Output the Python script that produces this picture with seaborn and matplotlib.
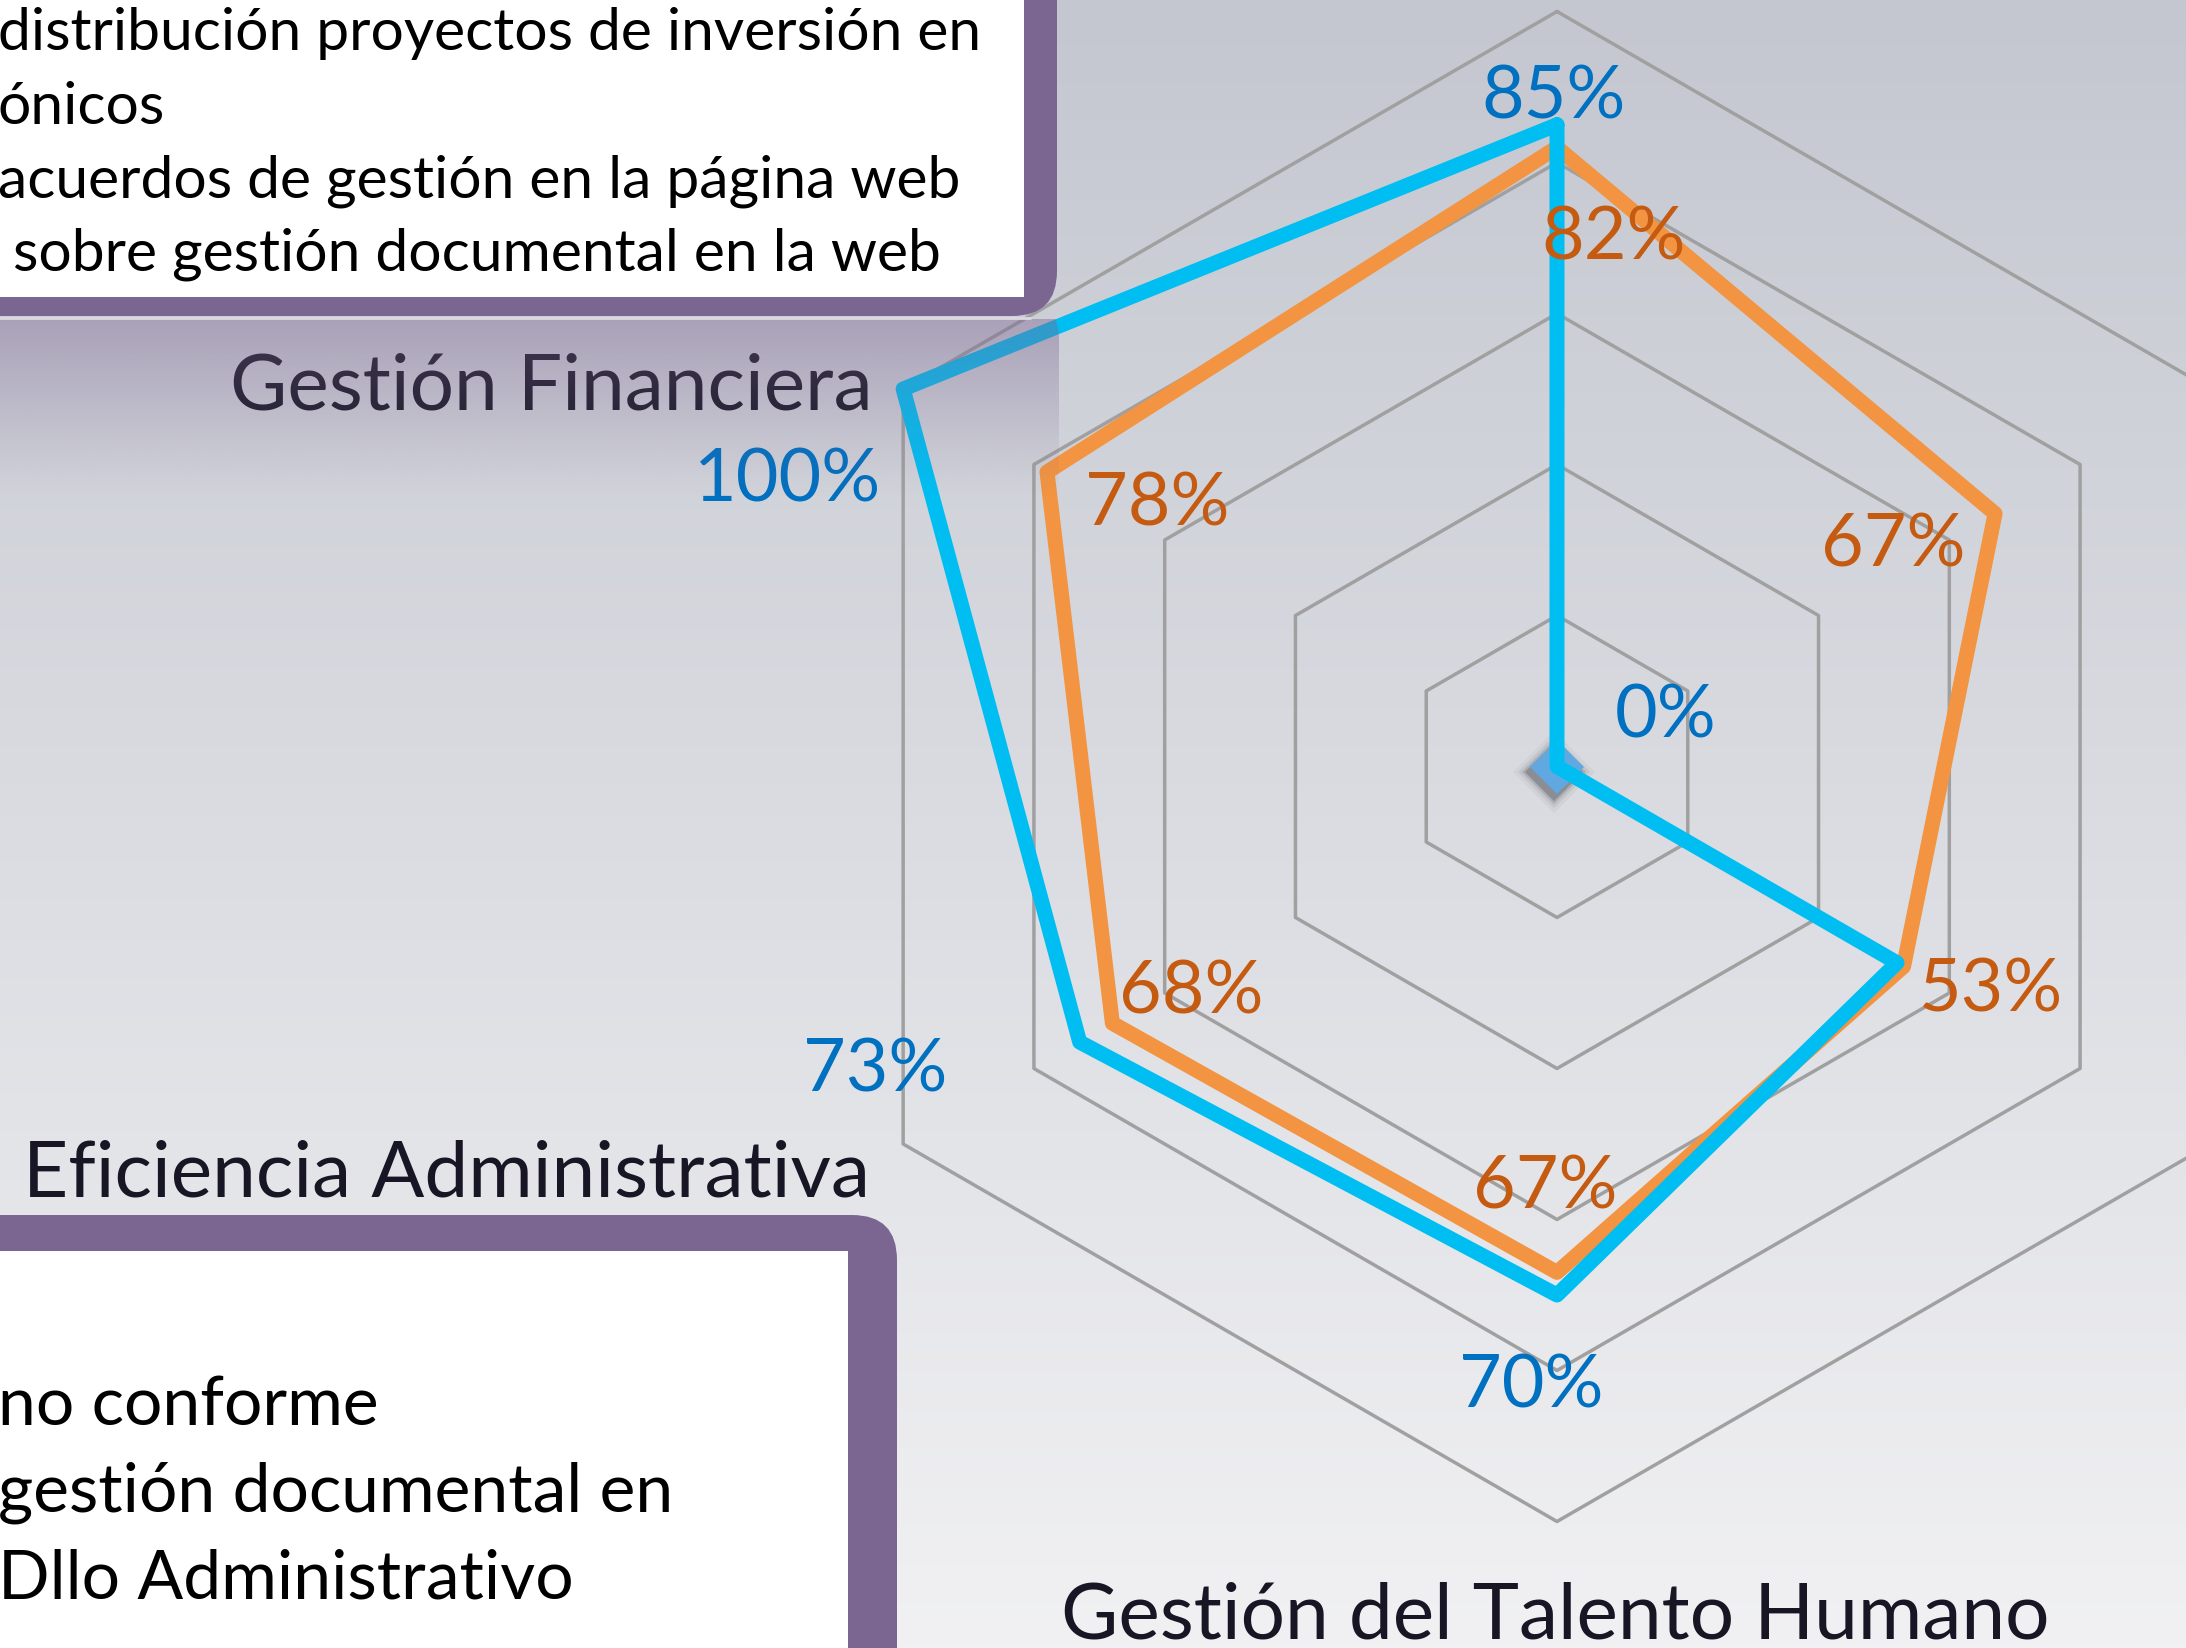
import numpy as np
import pandas as pd
import matplotlib
matplotlib.use("Agg")
import matplotlib.pyplot as plt
from matplotlib.patches import FancyBboxPatch, Rectangle
from matplotlib.transforms import offset_copy
import seaborn as sns

# ---- data -------------------------------------------------------------
categories = ["", "", "", "Gestión del Talento Humano",
              "Eficiencia Administrativa", "Gestión Financiera"]
serie_naranja = [82, 67, 53, 67, 68, 78]
serie_azul = [85, 0, 52, 70, 73, 100]
niveles = [20, 40, 60, 80, 100]

texto_superior = ["distribución proyectos de inversión en",
                  "ónicos",
                  "acuerdos de gestión en la página web",
                  " sobre gestión documental en la web"]
texto_inferior = ["no conforme",
                  "gestión documental en",
                  "Dllo Administrativo"]

# ---- style ------------------------------------------------------------
sns.set_theme(style="white")
plt.rcParams["font.family"] = ["Lato", "DejaVu Sans"]

W, H = 2186, 1649
fig = plt.figure(figsize=(W / 100, H / 100), dpi=100)

AZUL = "#00BEF2"
NARANJA = "#F29441"
AZUL_TXT = "#0070C0"
NARANJA_TXT = "#C55A11"
MORADO = "#7B6691"
GRIS = "#A0A0A0"

# background gradient
ax_bg = fig.add_axes([0, 0, 1, 1], zorder=-2)
grad = np.linspace(0, 1, 256)[:, None]
top = np.array([196, 199, 208]) / 255
bot = np.array([241, 241, 243]) / 255
img = top[None, None, :] * (1 - grad[..., None]) + bot[None, None, :] * grad[..., None]
ax_bg.imshow(np.repeat(img, 2, axis=1), aspect="auto", extent=[0, 1, 0, 1])
ax_bg.set_axis_off()

# ---- radar ------------------------------------------------------------
cx, cy, R = 1557, 767.5, 755
ax = fig.add_axes([(cx - R) / W, 1 - (cy + R) / H, 2 * R / W, 2 * R / H],
                  projection="polar", zorder=1)
ax.patch.set_alpha(0)
ax.set_theta_zero_location("N")
ax.set_theta_direction(-1)
ax.set_ylim(0, 100)
ax.grid(False)
ax.spines["polar"].set_visible(False)
ax.set_xticks([])
ax.set_yticks([])

n = len(categories)
theta = np.arange(n) * 2 * np.pi / n
theta_c = np.append(theta, theta[0])

for lv in niveles:
    ax.plot(theta_c, [lv] * (n + 1), color=GRIS, lw=2.5, clip_on=False, zorder=1)

# marker on the zero value of the blue series, with a soft shadow
k0 = serie_azul.index(0)
sombra = offset_copy(ax.transData, fig=fig, x=-3, y=-5, units="dots")
for s, a in [(42, 0.04), (37, 0.07), (33, 0.12), (30, 0.2)]:
    ax.plot(theta[k0], serie_azul[k0], marker="D", ms=s, color="#0A0E14",
            alpha=a, mew=0, clip_on=False, zorder=2, transform=sombra)
ax.plot(theta[k0], serie_azul[k0], marker="D", ms=28, color="#62A8E0",
        mew=0, clip_on=False, zorder=2.5)

df = pd.DataFrame({
    "theta": np.concatenate([theta_c, theta_c]),
    "valor": serie_naranja + serie_naranja[:1] + serie_azul + serie_azul[:1],
    "serie": ["naranja"] * (n + 1) + ["azul"] * (n + 1),
})
for nombre, color, z in [("naranja", NARANJA, 3), ("azul", AZUL, 4)]:
    sub = df[df["serie"] == nombre]
    sns.lineplot(data=sub, x="theta", y="valor", sort=False, estimator=None,
                 color=color, lw=10.8, ax=ax, legend=False, zorder=z)
for line in ax.lines[-2:]:
    line.set_clip_on(False)
    line.set_solid_joinstyle("round")
    line.set_solid_capstyle("round")
ax.set_xlabel("")
ax.set_ylabel("")

# value labels (offsets in pixels from each vertex)
off_naranja = [(57, -91), (-102, -31), (88, -23), (-12, 85), (79, 31), (110, -32)]
off_azul = [(-3, 28), (109, 50), None, (-26, -91), (-205, -28), (-116, -91)]
for vals, offs, col in [(serie_naranja, off_naranja, NARANJA_TXT),
                        (serie_azul, off_azul, AZUL_TXT)]:
    for t, v, o in zip(theta, vals, offs):
        if o is None:
            continue
        ax.annotate(f"{v}%", xy=(t, v), xytext=o, textcoords="offset pixels",
                    ha="center", va="center", fontsize=53, color=col,
                    annotation_clip=False, zorder=8)

# category labels
off_cat = {3: ((-2, -116), "center"), 4: ((-33, -51), "right"), 5: ((-31, -20), "right")}
for k, (o, ha) in off_cat.items():
    ax.annotate(categories[k], xy=(theta[k], 100), xytext=o,
                textcoords="offset pixels", ha=ha, va="baseline",
                fontsize=56.5, color="#181624", annotation_clip=False, zorder=8)

# ---- overlay boxes ------------------------------------------------------
ov = fig.add_axes([0, 0, 1, 1], zorder=5)
ov.set_xlim(0, W)
ov.set_ylim(H, 0)
ov.set_axis_off()
ov.patch.set_alpha(0)

# translucent band under the upper box
band = np.zeros((200, 2, 4))
mc = np.array([123, 102, 145]) / 255
band[..., :3] = mc
band[..., 3] = np.linspace(0.47, 0.0, 200)[:, None] ** 1.1
clip = FancyBboxPatch((-60, 300), 1119, 220, boxstyle="round,pad=0,rounding_size=40",
                      transform=ov.transData)
im = ov.imshow(band, extent=[-10, 1059, 500, 320], aspect="auto", zorder=1)
im.set_clip_path(clip)
ov.plot([-10, 1030], [319, 319], color="#DCD8E2", lw=2, zorder=2)
ov.set_xlim(0, W)
ov.set_ylim(H, 0)

ov.add_patch(FancyBboxPatch((-80, -80), 1137, 397,
                            boxstyle="round,pad=0,rounding_size=45",
                            fc=MORADO, ec="none", zorder=3))
ov.add_patch(Rectangle((-10, -10), 1034, 308, fc="white", ec="none", zorder=4))
for i, t in enumerate(texto_superior):
    ov.text(-2, 50 + i * 73.5, t, fontsize=42.3, color="black",
            ha="left", va="baseline", zorder=5)

ov.add_patch(FancyBboxPatch((-80, 1216), 977, 560,
                            boxstyle="round,pad=0,rounding_size=45",
                            fc=MORADO, ec="none", zorder=3))
ov.add_patch(Rectangle((-10, 1252), 858, 500, fc="white", ec="none", zorder=4))
for i, t in enumerate(texto_inferior):
    ov.text(-2, 1425 + i * 87, t, fontsize=48.8, color="black",
            ha="left", va="baseline", zorder=5)

fig.savefig("out.png", dpi=100)
